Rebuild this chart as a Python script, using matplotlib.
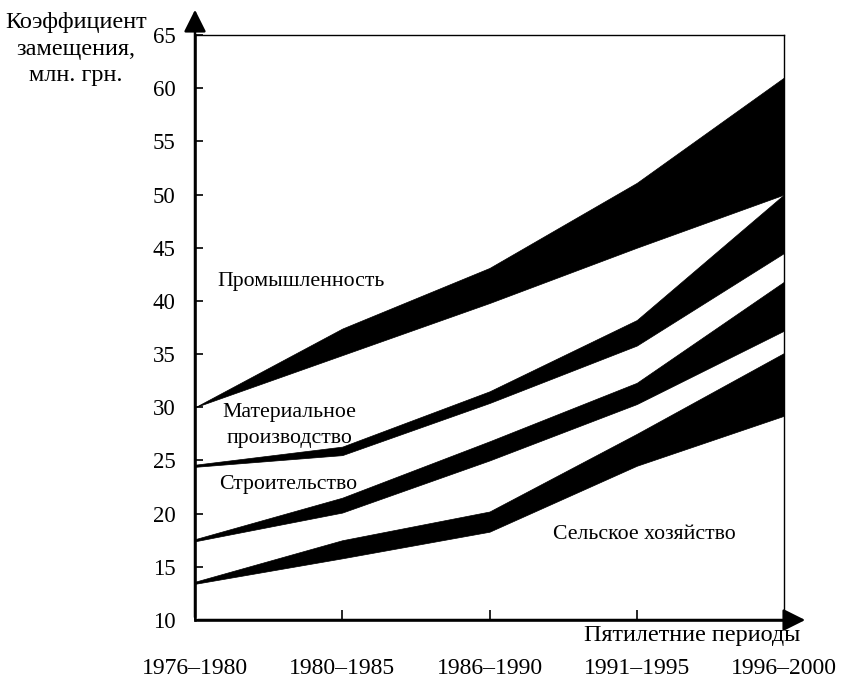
import matplotlib
matplotlib.use("Agg")
import matplotlib.pyplot as plt

periods = ["1976–1980", "1980–1985", "1986–1990", "1991–1995", "1996–2000"]
prom_top = [30.0, 37.4, 43.1, 51.1, 61.0]
prom_bottom = [30.0, 34.9, 39.8, 45.0, 50.0]
mat_top = [24.6, 26.3, 31.5, 38.2, 50.0]
mat_bottom = [24.4, 25.5, 30.4, 35.8, 44.5]
stroit_top = [17.6, 21.5, 26.8, 32.3, 41.8]
stroit_bottom = [17.4, 20.1, 25.0, 30.3, 37.2]
selsk_top = [13.6, 17.5, 20.2, 27.5, 35.1]
selsk_bottom = [13.4, 15.8, 18.3, 24.5, 29.2]
y_ticks = [10, 15, 20, 25, 30, 35, 40, 45, 50, 55, 60, 65]

plt.rcParams['font.family'] = ['Liberation Serif', 'DejaVu Serif']
plt.rcParams['font.size'] = 15

fig = plt.figure(figsize=(8.42, 6.78), dpi=100)
ax = fig.add_axes([195/842, 1-620/678, (784-195)/842, (620-35)/678])

x = list(range(len(periods)))
for top, bot in [(prom_top, prom_bottom), (mat_top, mat_bottom),
                 (stroit_top, stroit_bottom), (selsk_top, selsk_bottom)]:
    ax.fill_between(x, bot, top, color='black', linewidth=0.5, edgecolor='black')

ax.set_xlim(0, 4)
ax.set_ylim(10, 65)
ax.set_yticks(y_ticks)
ax.set_xticks(x)
ax.set_xticklabels(periods)
ax.tick_params(axis='y', direction='in', length=6, width=1.2, pad=14, labelsize=16.5)
ax.tick_params(axis='x', direction='in', length=7, width=1.2, pad=27, labelsize=17)

for s in ['left', 'bottom']:
    ax.spines[s].set_linewidth(1.8)
for s in ['top', 'right']:
    ax.spines[s].set_linewidth(1.0)

# axis arrows
fig.add_artist(matplotlib.patches.FancyArrowPatch(
    (195/842, 1-620/678), (195/842, 1-7/678), transform=fig.transFigure,
    arrowstyle='-|>,head_length=9,head_width=4.5', mutation_scale=1.5,
    color='black', linewidth=1.8))
fig.add_artist(matplotlib.patches.FancyArrowPatch(
    (195/842, 1-620/678), (808/842, 1-620/678), transform=fig.transFigure,
    arrowstyle='-|>,head_length=9,head_width=4.5', mutation_scale=1.5,
    color='black', linewidth=1.8))

ax.text(0.72, 41.8, "Промышленность", ha='center', va='center', fontsize=15.7)
ax.text(0.64, 29.5, "Материальное", ha='center', va='center', fontsize=15.7)
ax.text(0.64, 27.1, "производство", ha='center', va='center', fontsize=15.7)
ax.text(0.63, 22.7, "Строительство", ha='center', va='center', fontsize=15.7)
ax.text(3.05, 18.0, "Сельское хозяйство", ha='center', va='center', fontsize=15.7)

fig.text(800/842, 1-636/678, "Пятилетние периоды", ha='right', va='center', fontsize=17.4)
fig.text(76/842, 1-49/678, "Коэффициент\nзамещения,\nмлн. грн.", ha='center', va='center',
         fontsize=17.5, linespacing=1.36)

fig.savefig("out.png", dpi=100)
